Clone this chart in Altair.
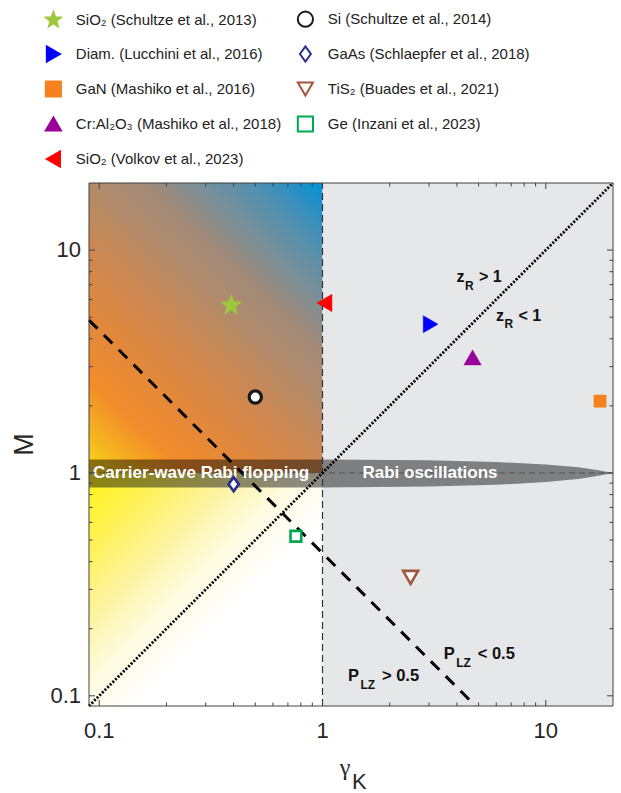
import altair as alt
import pandas as pd

# ------------------------------------------------------------------ data
# legend order: column-major (left column first, then right column)
materials = [
    "SiO₂ (Schultze et al., 2013)",
    "Diam. (Lucchini et al., 2016)",
    "GaN (Mashiko et al., 2016)",
    "Cr:Al₂O₃ (Mashiko et al., 2018)",
    "SiO₂ (Volkov et al., 2023)",
    "Si (Schultze et al., 2014)",
    "GaAs (Schlaepfer et al., 2018)",
    "TiS₂ (Buades et al., 2021)",
    "Ge (Inzani et al., 2023)",
]
gamma_k = [0.39, 3.05, 17.5, 4.7, 1.02, 0.50, 0.40, 2.48, 0.76]
m_value = [5.65, 4.65, 2.1, 3.3, 5.79, 2.19, 0.89, 0.34, 0.52]

gamma_range = [0.09, 20]
m_range = [0.09, 20]
major_ticks = [0.1, 1, 10]
major_labels = ["0.1", "1", "10"]
minor_ticks = [0.2, 0.3, 0.4, 0.5, 0.6, 0.7, 0.8, 0.9, 2, 3, 4, 5, 6, 7, 8, 9]

keldysh_gamma = 1.0
rabi_m = 1.0
zr_gamma = [0.09, 20]
zr_m = [0.09, 20]
plz_gamma = [0.09, 4.85]
plz_m = [4.85, 0.09]

band_gamma = [0.09, 1, 3, 6, 10, 14, 17, 20]
band_upper = [1.15, 1.15, 1.14, 1.12, 1.09, 1.06, 1.03, 1.0]
band_lower = [0.86, 0.86, 0.87, 0.885, 0.91, 0.94, 0.97, 1.0]

region_labels = ["Carrier-wave Rabi flopping", "Rabi oscillations"]
region_gamma = [0.0937, 3.03]
region_m = [1.0, 1.0]

bound_main = ["z", "z", "P", "P"]
bound_sub = ["R", "R", "LZ", "LZ"]
bound_rest = ["> 1", "< 1", "< 0.5", "> 0.5"]
bound_gamma = [3.98, 5.98, 3.49, 1.30]
bound_m = [7.19, 4.82, 0.1466, 0.1163]

# ------------------------------------------------------------------ styles
STAR = ("M0,-1L0.247,-0.34L0.951,-0.309L0.399,0.13L0.588,0.809L0,0.42"
        "L-0.588,0.809L-0.399,0.13L-0.951,-0.309L-0.247,-0.34Z")
DIAMOND = "M0,-1L0.72,0L0,1L-0.72,0Z"
style = {
    "SiO₂ (Schultze et al., 2013)": (STAR, "#9dc83c", "#9dc83c", 480, 0.5),
    "Si (Schultze et al., 2014)": ("circle", "#ffffff", "#1a1a1a", 150, 3.2),
    "Diam. (Lucchini et al., 2016)": ("triangle-right", "#0000ff", "#0000ff", 290, 0.5),
    "GaAs (Schlaepfer et al., 2018)": (DIAMOND, "#ffffff", "#2b2e8f", 200, 2.7),
    "GaN (Mashiko et al., 2016)": ("square", "#f5821f", "#f5821f", 150, 0.5),
    "TiS₂ (Buades et al., 2021)": ("triangle-down", "#ffffff", "#a3563e", 225, 2.6),
    "Cr:Al₂O₃ (Mashiko et al., 2018)": ("triangle-up", "#990099", "#990099", 300, 0.5),
    "Ge (Inzani et al., 2023)": ("square", "#ffffff", "#00a651", 115, 2.6),
    "SiO₂ (Volkov et al., 2023)": ("triangle-left", "#ff0000", "#ff0000", 300, 0.5),
}

FONT = "Liberation Sans"
TXT = "#262626"
TICK = "#404040"
W, H = 524, 523

xs = alt.Scale(type="log", domain=gamma_range, nice=False)
ys = alt.Scale(type="log", domain=m_range, nice=False)

one = pd.DataFrame({"a": [0]})

# ------------------------------------------------------------------ background regions
upper_df = pd.DataFrame({"x": [gamma_range[0]], "x2": [keldysh_gamma],
                         "y": [rabi_m], "y2": [m_range[1]]})
upper = alt.Chart(upper_df).mark_rect(
    fill=alt.LinearGradient(
        gradient="linear",
        stops=[
            alt.GradientStop(color="#f9dc1c", offset=0),
            alt.GradientStop(color="#f5b420", offset=0.08),
            alt.GradientStop(color="#f28c2a", offset=0.18),
            alt.GradientStop(color="#e2883c", offset=0.31),
            alt.GradientStop(color="#cc8852", offset=0.45),
            alt.GradientStop(color="#b08b6c", offset=0.58),
            alt.GradientStop(color="#a28a78", offset=0.67),
            alt.GradientStop(color="#7a8f98", offset=0.77),
            alt.GradientStop(color="#5090b0", offset=0.87),
            alt.GradientStop(color="#2090c8", offset=0.95),
            alt.GradientStop(color="#0096da", offset=1),
        ],
        x1=0, y1=1, x2=0.8435, y2=-0.118,
    )
).encode(
    x=alt.X("x:Q", scale=xs, axis=None), x2="x2:Q",
    y=alt.Y("y:Q", scale=ys, axis=None), y2="y2:Q",
)

lower_df = pd.DataFrame({"x": [gamma_range[0]], "x2": [keldysh_gamma],
                         "y": [m_range[0]], "y2": [rabi_m]})
lower = alt.Chart(lower_df).mark_rect(
    fill=alt.LinearGradient(
        gradient="linear",
        stops=[
            alt.GradientStop(color="#fff31a", offset=0),
            alt.GradientStop(color="#fef250", offset=0.15),
            alt.GradientStop(color="#fdf39a", offset=0.3),
            alt.GradientStop(color="#fffbdf", offset=0.45),
            alt.GradientStop(color="#ffffff", offset=0.6),
        ],
        x1=0, y1=0, x2=1, y2=1,
    )
).encode(
    x=alt.X("x:Q", scale=xs, axis=None), x2="x2:Q",
    y=alt.Y("y:Q", scale=ys, axis=None), y2="y2:Q",
)

right_df = pd.DataFrame({"x": [keldysh_gamma], "x2": [gamma_range[1]],
                         "y": [m_range[0]], "y2": [m_range[1]]})
right = alt.Chart(right_df).mark_rect(fill="#e6e7e9").encode(
    x=alt.X("x:Q", scale=xs, axis=None), x2="x2:Q",
    y=alt.Y("y:Q", scale=ys, axis=None), y2="y2:Q",
)

# ------------------------------------------------------------------ band
band_df = pd.DataFrame({"g": band_gamma, "hi": band_upper, "lo": band_lower})
band = alt.Chart(band_df).mark_area(color="black", opacity=0.45).encode(
    x=alt.X("g:Q", scale=xs, axis=None),
    y=alt.Y("hi:Q", scale=ys, axis=None), y2="lo:Q",
)

# ------------------------------------------------------------------ lines
hdash = alt.Chart(pd.DataFrame({"x": [gamma_range[0]], "x2": [gamma_range[1]],
                                "y": [rabi_m]})).mark_rule(
    color="#505050", strokeWidth=1, strokeDash=[6, 4]
).encode(x=alt.X("x:Q", scale=xs, axis=None), x2="x2:Q",
         y=alt.Y("y:Q", scale=ys, axis=None))

vdash = alt.Chart(pd.DataFrame({"x": [keldysh_gamma], "y": [m_range[0]],
                                "y2": [m_range[1]]})).mark_rule(
    color="#333333", strokeWidth=1.2, strokeDash=[7, 4]
).encode(x=alt.X("x:Q", scale=xs, axis=None),
         y=alt.Y("y:Q", scale=ys, axis=None), y2="y2:Q")

zr_line = alt.Chart(pd.DataFrame({"g": zr_gamma, "m": zr_m})).mark_line(
    color="black", strokeWidth=2.8, strokeDash=[2, 1.7]
).encode(x=alt.X("g:Q", scale=xs, axis=None), y=alt.Y("m:Q", scale=ys, axis=None))

plz_line = alt.Chart(pd.DataFrame({"g": plz_gamma, "m": plz_m})).mark_line(
    color="black", strokeWidth=3, strokeDash=[12, 9]
).encode(x=alt.X("g:Q", scale=xs, axis=None), y=alt.Y("m:Q", scale=ys, axis=None))

# ------------------------------------------------------------------ markers
pts = pd.DataFrame({"material": materials, "g": gamma_k, "m": m_value})
pts["sz"] = [style[k][3] for k in materials]
pts["sw"] = [style[k][4] for k in materials]

leg = alt.Legend(title=None, orient="none", legendX=-44.6, legendY=-173,
                 columns=2, labelFont=FONT, labelFontSize=15, labelColor="#222222",
                 symbolSize=230, symbolStrokeWidth=2, labelOffset=13.4,
                 rowPadding=11, columnPadding=12, padding=0, labelLimit=400)

points = alt.Chart(pts).mark_point(opacity=1, fillOpacity=1, strokeOpacity=1).encode(
    x=alt.X("g:Q", scale=xs, axis=None),
    y=alt.Y("m:Q", scale=ys, axis=None),
    shape=alt.Shape("material:N", scale=alt.Scale(domain=materials,
                    range=[style[k][0] for k in materials]), legend=leg),
    fill=alt.Fill("material:N", scale=alt.Scale(domain=materials,
                  range=[style[k][1] for k in materials]), legend=leg),
    stroke=alt.Stroke("material:N", scale=alt.Scale(domain=materials,
                      range=[style[k][2] for k in materials]), legend=leg),
    size=alt.Size("sz:Q", scale=None),
    strokeWidth=alt.StrokeWidth("sw:Q", scale=None),
)

# ------------------------------------------------------------------ ticks (inward, all sides)
maj = pd.DataFrame({"v": major_ticks, "lab": major_labels})
mnr = pd.DataFrame({"v": minor_ticks})


def xticks(df, y0, y1):
    return alt.Chart(df).mark_rule(color=TICK, strokeWidth=1).encode(
        x=alt.X("v:Q", scale=xs, axis=None), y=alt.value(y0), y2=alt.value(y1))


def yticks(df, x0, x1):
    return alt.Chart(df).mark_rule(color=TICK, strokeWidth=1).encode(
        y=alt.Y("v:Q", scale=ys, axis=None), x=alt.value(x0), x2=alt.value(x1))


ticks = [
    xticks(maj, H, H - 6), xticks(mnr, H, H - 3.5),
    xticks(maj, 0, 6), xticks(mnr, 0, 3.5),
    yticks(maj, 0, 6), yticks(mnr, 0, 3.5),
    yticks(maj, W, W - 6), yticks(mnr, W, W - 3.5),
]

# tick labels drawn through the scales
xlabels = alt.Chart(maj).mark_text(
    align="center", baseline="top", font=FONT, fontSize=22, color=TXT
).encode(x=alt.X("v:Q", scale=xs, axis=None), y=alt.value(H + 15), text="lab:N")
ylabels = alt.Chart(maj).mark_text(
    align="right", baseline="middle", font=FONT, fontSize=22, color=TXT
).encode(y=alt.Y("v:Q", scale=ys, axis=None), x=alt.value(-8), text="lab:N")

frame = alt.Chart(one).mark_rect(fill="white", fillOpacity=0, stroke=TICK,
                                 strokeWidth=1).encode(
    x=alt.value(0), x2=alt.value(W), y=alt.value(0), y2=alt.value(H))

# ------------------------------------------------------------------ texts
reg = pd.DataFrame({"t": region_labels, "g": region_gamma, "m": region_m})
reg1 = alt.Chart(reg.iloc[[0]]).mark_text(
    align="left", baseline="middle", font=FONT, fontSize=17, fontWeight="bold",
    color="white").encode(x=alt.X("g:Q", scale=xs, axis=None),
                          y=alt.Y("m:Q", scale=ys, axis=None), text="t:N")
reg2 = alt.Chart(reg.iloc[[1]]).mark_text(
    align="center", baseline="middle", font=FONT, fontSize=17, fontWeight="bold",
    color="white").encode(x=alt.X("g:Q", scale=xs, axis=None),
                          y=alt.Y("m:Q", scale=ys, axis=None), text="t:N")

bnd = pd.DataFrame({"main": bound_main, "sub": bound_sub, "rest": bound_rest,
                    "g": bound_gamma, "m": bound_m})


def bound_text(df, field, size, dx, dy):
    return alt.Chart(df).mark_text(
        align="left", baseline="alphabetic", font=FONT, fontSize=size,
        fontWeight="bold", color="#111111", dx=dx, dy=dy
    ).encode(x=alt.X("g:Q", scale=xs, axis=None),
             y=alt.Y("m:Q", scale=ys, axis=None), text=f"{field}:N")


zdf = bnd.iloc[[0, 1]]
pdf = bnd.iloc[[2, 3]]
bound_layers = [
    bound_text(zdf, "main", 16, 0, 0), bound_text(zdf, "sub", 12, 8.5, 7.5),
    bound_text(zdf, "rest", 16, 22.5, 0),
    bound_text(pdf, "main", 16.5, 0, 0), bound_text(pdf, "sub", 12, 12.5, 8),
    bound_text(pdf, "rest", 16.5, 34, 0),
]

ytitle = alt.Chart(pd.DataFrame({"t": ["M"]})).mark_text(
    align="center", baseline="middle", font=FONT, fontSize=27, angle=270,
    color=TXT).encode(text="t:N", x=alt.value(-64), y=alt.value(H / 2))
xtitle_g = alt.Chart(pd.DataFrame({"t": ["γ"]})).mark_text(
    align="center", baseline="alphabetic", font="Liberation Serif", fontSize=24,
    color=TXT).encode(text="t:N", x=alt.value(256), y=alt.value(592))
xtitle_k = alt.Chart(pd.DataFrame({"t": ["K"]})).mark_text(
    align="left", baseline="alphabetic", font=FONT, fontSize=22,
    color=TXT).encode(text="t:N", x=alt.value(263), y=alt.value(606))

chart = alt.layer(
    upper, lower, right, band, hdash, vdash, zr_line, plz_line,
    reg1, reg2, points, *bound_layers, *ticks, frame, xlabels, ylabels,
    ytitle, xtitle_g, xtitle_k,
).properties(
    width=W, height=H,
    autosize=alt.AutoSizeParams(type="none"),
    padding={"left": 89, "top": 183, "right": 8, "bottom": 87},
).configure_view(strokeWidth=0)

chart.save("out.html", embed_options={"renderer": "svg", "actions": False})
